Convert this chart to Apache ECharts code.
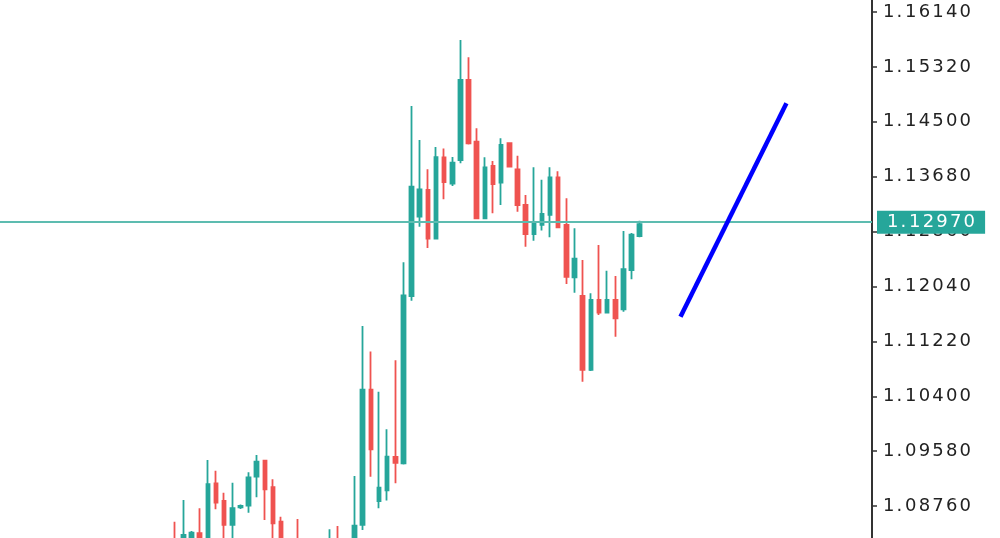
<!DOCTYPE html>
<html lang="en">
<head>
  <meta charset="UTF-8">
  <title>Candles</title>
  <script src="https://cdn.jsdelivr.net/npm/echarts@6.0.0/dist/echarts.min.js"></script>
  <style>
    html, body {
      margin: 0;
      padding: 0;
      background: #fff;
    }

    #main {
      width: 1000px;
      height: 538px;
    }
  </style>
</head>
<body>
  <div id="main"></div>

  <script type="text/javascript">
    // each candle: open, close, low, high
    var candles = [
      [1.08254, 1.08030, 1.07880, 1.08527],
      [1.08134, 1.08328, 1.08015, 1.08851],
      [1.08179, 1.08363, 1.08074, 1.08388],
      [1.08354, 1.08134, 1.08015, 1.08727],
      [1.08224, 1.09086, 1.08104, 1.09448],
      [1.09100, 1.08811, 1.08712, 1.09289],
      [1.08836, 1.08478, 1.08254, 1.08960],
      [1.08478, 1.08727, 1.08254, 1.09109],
      [1.08739, 1.08761, 1.08717, 1.08784],
      [1.08766, 1.09190, 1.08661, 1.09265],
      [1.09199, 1.09423, 1.08891, 1.09523],
      [1.09438, 1.09011, 1.08552, 1.09448],
      [1.09041, 1.08503, 1.08254, 1.09160],
      [1.08527, 1.08179, 1.08030, 1.08602],
      [1.08150, 1.07980, 1.07900, 1.08200],
      [1.08050, 1.07900, 1.07820, 1.08567],
      [1.07900, 1.08050, 1.07800, 1.08150],
      [1.08050, 1.07950, 1.07850, 1.08200],
      [1.07950, 1.08100, 1.07880, 1.08220],
      [1.08100, 1.08200, 1.08000, 1.08413],
      [1.08200, 1.08050, 1.07950, 1.08463],
      [1.08050, 1.08180, 1.07980, 1.08250],
      [1.08150, 1.08467, 1.08100, 1.09209],
      [1.08478, 1.10499, 1.08403, 1.11450],
      [1.10499, 1.09608, 1.09199, 1.11069],
      [1.08836, 1.09035, 1.08727, 1.10469],
      [1.08993, 1.09498, 1.08843, 1.09907],
      [1.09493, 1.09404, 1.09100, 1.10938],
      [1.09399, 1.11908, 1.09381, 1.12401],
      [1.11898, 1.13531, 1.11828, 1.14736],
      [1.13083, 1.13489, 1.12933, 1.14228],
      [1.13481, 1.12754, 1.12615, 1.13790],
      [1.12754, 1.13971, 1.12742, 1.14124],
      [1.13967, 1.13598, 1.13342, 1.14100],
      [1.13578, 1.13889, 1.13541, 1.13975],
      [1.13929, 1.15124, 1.13880, 1.15722],
      [1.15124, 1.14179, 1.14161, 1.15463],
      [1.14203, 1.13059, 1.13048, 1.14403],
      [1.13059, 1.13820, 1.13048, 1.13970],
      [1.13840, 1.13571, 1.13133, 1.13914],
      [1.13590, 1.14153, 1.13257, 1.14254],
      [1.14179, 1.13829, 1.13817, 1.14188],
      [1.13790, 1.13257, 1.13157, 1.13994],
      [1.13257, 1.12824, 1.12634, 1.13407],
      [1.12824, 1.12993, 1.12724, 1.13820],
      [1.12959, 1.13123, 1.12876, 1.13635],
      [1.13108, 1.13671, 1.12775, 1.13820],
      [1.13671, 1.12924, 1.12914, 1.13762],
      [1.12959, 1.12182, 1.12077, 1.13357],
      [1.12177, 1.12455, 1.11947, 1.12909],
      [1.11898, 1.10793, 1.10618, 1.12436],
      [1.10793, 1.11838, 1.10778, 1.11938],
      [1.11838, 1.11649, 1.11614, 1.12660],
      [1.11649, 1.11838, 1.11637, 1.12276],
      [1.11838, 1.11565, 1.11290, 1.12197],
      [1.11699, 1.12297, 1.11664, 1.12869],
      [1.12286, 1.12815, 1.12147, 1.12840],
      [1.12794, 1.12970, 1.12775, 1.13023]
    ];

    // price scale labels on the right
    var priceTicks = [1.08760, 1.09580, 1.10400, 1.11220, 1.12040, 1.12860, 1.13680, 1.14500, 1.15320, 1.16140];

    var lastPrice = 1.12970;

    // hand drawn trend line: [bar index from first candle, price]
    var trendLine = [[62, 1.11589], [75, 1.14776]];

    // visible window
    var leadBars = 21;
    var totalBars = 107;
    var priceMin = 1.08283;
    var priceMax = 1.16319;

    var bull = '#26a69a';
    var bear = '#ef5350';
    var font = 'DejaVu Sans';

    var categories = [];
    var ohlc = [];
    for (var i = 0; i < totalBars; i++) {
      categories.push(String(i - leadBars));
      var c = candles[i - leadBars];
      ohlc.push(c ? c : '-');
    }

    var trendData = trendLine.map(function(p) {
      return [p[0] + leadBars, p[1]];
    });

    // the terminal font is wide, so every char gets its own fixed cell
    function spaced(v) {
      return v.toFixed(5).split('').map(function(ch) {
        return ch === '.' ? '{p|.}' : '{d|' + ch + '}';
      }).join('');
    }

    function cells(color) {
      return {
        d: { width: 13.6, color: color, fontFamily: font, fontSize: 18 },
        p: { width: 8.5, color: color, fontFamily: font, fontSize: 18 }
      };
    }

    var myChart = echarts.init(document.getElementById('main'));

    var option = {
      animation: false,
      backgroundColor: '#fff',
      grid: {
        left: 0,
        right: 128,
        top: 0,
        bottom: 0
      },
      xAxis: {
        type: 'category',
        data: categories,
        boundaryGap: true,
        axisLine: { show: false },
        axisTick: { show: false },
        axisLabel: { show: false },
        splitLine: { show: false }
      },
      yAxis: {
        type: 'value',
        position: 'right',
        min: priceMin,
        max: priceMax,
        splitLine: { show: false },
        axisLine: {
          show: true,
          lineStyle: { color: '#333', width: 2 }
        },
        axisTick: {
          show: true,
          length: 5,
          customValues: priceTicks,
          lineStyle: { color: '#333', width: 1.5 }
        },
        axisLabel: {
          customValues: priceTicks,
          margin: 11,
          color: '#222',
          fontFamily: font,
          fontSize: 18,
          formatter: spaced,
          rich: cells('#222')
        }
      },
      series: [
        {
          name: 'price',
          type: 'candlestick',
          data: ohlc,
          barWidth: 4,
          itemStyle: {
            color: bull,
            color0: bear,
            borderColor: bull,
            borderColor0: bear,
            borderWidth: 1.8
          },
          markLine: {
            silent: true,
            symbol: ['none', 'none'],
            animation: false,
            data: [{ yAxis: lastPrice }],
            lineStyle: { color: '#5dbcb0', width: 2, type: 'solid' },
            label: {
              position: 'end',
              distance: 5,
              formatter: spaced(lastPrice),
              color: '#fff',
              backgroundColor: bull,
              fontFamily: font,
              fontSize: 18,
              padding: [3, 8, 2, 10],
              rich: cells('#fff')
            }
          }
        },
        {
          name: 'trend',
          type: 'line',
          data: trendData,
          symbol: 'none',
          silent: true,
          z: 5,
          lineStyle: { color: '#0000ff', width: 4.5 }
        }
      ]
    };

    myChart.setOption(option);
  </script>
</body>
</html>
